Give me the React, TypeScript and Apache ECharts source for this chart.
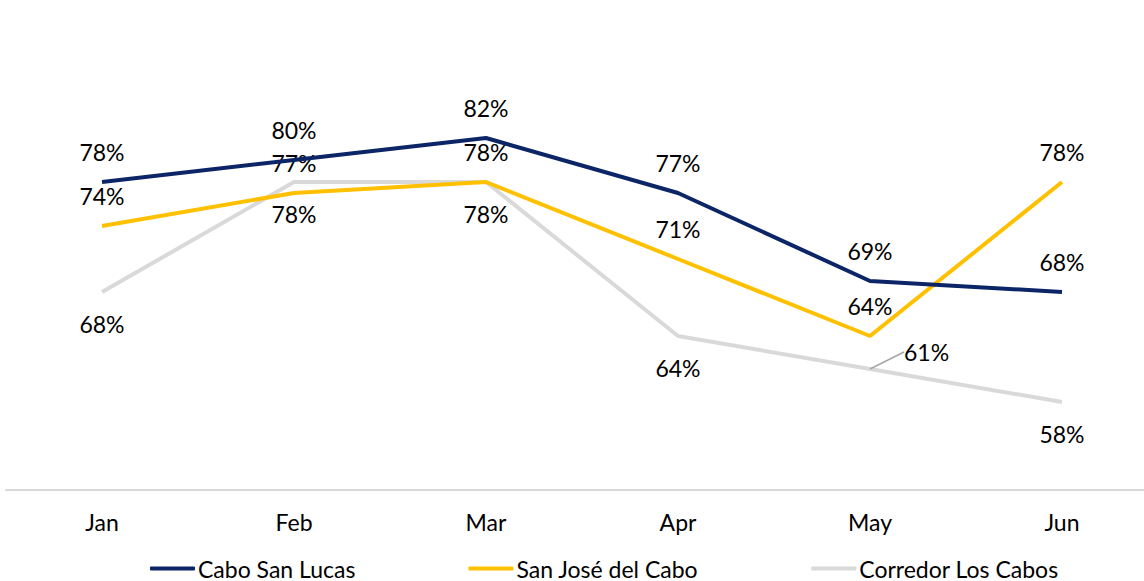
import React, { useEffect, useRef } from "react";
import * as echarts from "echarts";

const months = ["Jan", "Feb", "Mar", "Apr", "May", "Jun"];
const caboSanLucas = [78, 80, 82, 77, 69, 68];
const sanJose = [74, 77, 78, 71, 64, 78];
const corredor = [68, 78, 78, 64, 61, 58];

const FONT = "Lato";
const FS = 23;

export default function App() {
  const ref = useRef<HTMLDivElement>(null);
  useEffect(() => {
    document.body.style.margin = "0";
    document.body.style.overflow = "hidden";
    document.documentElement.style.overflow = "hidden";
    const chart = echarts.init(ref.current!, undefined, { renderer: "svg" });
    const labelStyle = {
      show: true,
      formatter: "{c}%",
      fontFamily: FONT,
      fontSize: FS,
      color: "#000",
    };
    chart.setOption({
      animation: false,
      grid: { left: 6, right: 8, top: 50, bottom: 91 },
      xAxis: {
        type: "category",
        data: months,
        boundaryGap: true,
        axisLine: { lineStyle: { color: "#D9D9D9", width: 2 } },
        axisTick: { show: false },
        axisLabel: { fontFamily: FONT, fontSize: FS, color: "#000", margin: 20 },
      },
      yAxis: { type: "value", min: 50, max: 90, show: false, splitLine: { show: false } },
      legend: {
        left: 145,
        top: 552,
        itemWidth: 45,
        itemHeight: 4,
        itemGap: 113,
        icon: "roundRect",
        textStyle: { fontFamily: FONT, fontSize: FS, color: "#000", padding: [0, 0, 0, -2] },
        data: ["Cabo San Lucas", "San José del Cabo", "Corredor Los Cabos"],
      },
      series: [
        {
          name: "Corredor Los Cabos",
          type: "line",
          data: corredor.map((v, i) =>
            i === 4
              ? {
                  value: v,
                  label: { position: "right" },
                  labelLine: { show: true, lineStyle: { color: "#A6A6A6", width: 1.5 } },
                }
              : v
          ),
          symbol: "circle",
          symbolSize: 0,
          showSymbol: true,
          lineStyle: { color: "#D9D9D9", width: 4 },
          itemStyle: { color: "#D9D9D9" },
          label: { ...labelStyle, position: "bottom", distance: 20 },
          labelLine: { show: false },
          labelLayout: (p: any) => (p.dataIndex === 4 ? { dx: 14, dy: -17 } : {}),
          z: 1,
        },
        {
          name: "San José del Cabo",
          type: "line",
          data: sanJose,
          symbol: "circle",
          symbolSize: 0,
          showSymbol: true,
          lineStyle: { color: "#FFC000", width: 4 },
          itemStyle: { color: "#FFC000" },
          label: { ...labelStyle, position: "top", distance: 19 },
          z: 2,
        },
        {
          name: "Cabo San Lucas",
          type: "line",
          data: caboSanLucas,
          symbol: "circle",
          symbolSize: 0,
          showSymbol: true,
          lineStyle: { color: "#0B2566", width: 4 },
          itemStyle: { color: "#0B2566" },
          label: { ...labelStyle, position: "top", distance: 19 },
          z: 3,
        },
      ],
    });
    return () => chart.dispose();
  }, []);
  return <div ref={ref} style={{ width: 1166, height: 581 }} />;
}
